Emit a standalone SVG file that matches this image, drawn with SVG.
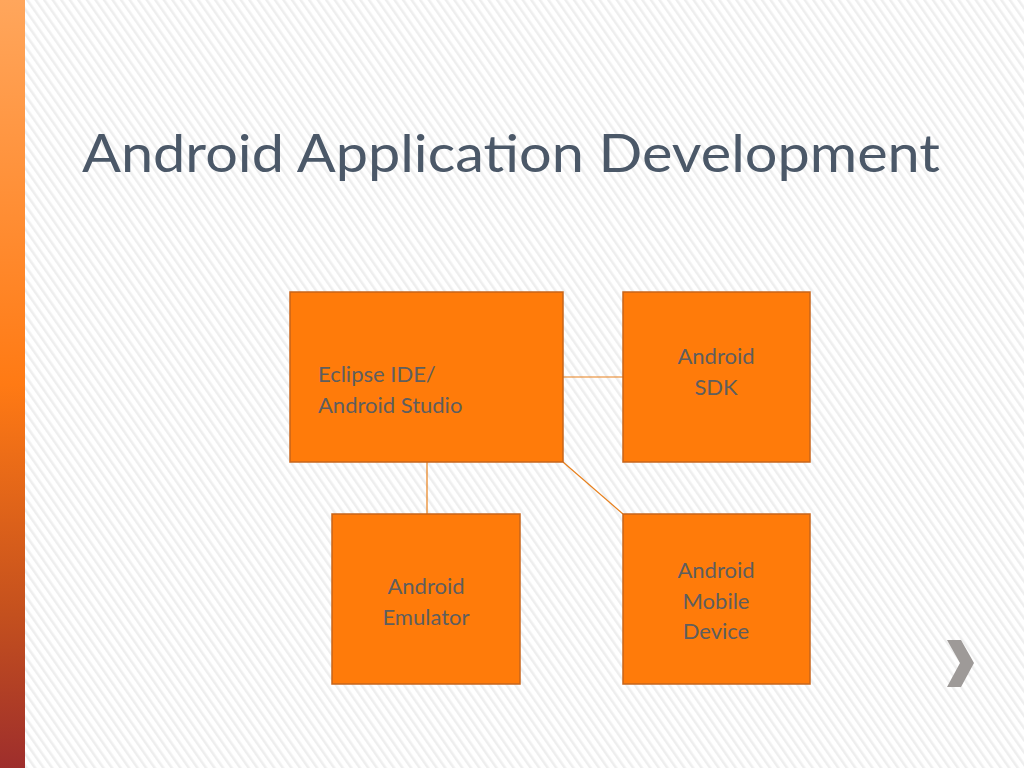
<svg xmlns="http://www.w3.org/2000/svg" width="1024" height="768" viewBox="0 0 1024 768">
<defs>
<linearGradient id="bar" x1="0" y1="0" x2="0" y2="1">
<stop offset="0" stop-color="#FFA65C"/>
<stop offset="0.5" stop-color="#FF7A14"/>
<stop offset="0.8" stop-color="#C4501E"/>
<stop offset="1" stop-color="#9E2E2C"/>
</linearGradient>
<pattern id="hatch" width="7" height="7" patternUnits="userSpaceOnUse" patternTransform="rotate(-35)">
<rect width="7" height="7" fill="#FFFFFF"/>
<rect x="0" y="0" width="2.5" height="7" fill="#EEEEEE"/>
</pattern>
<style>
.box{fill:#FF7B0A;stroke:#C8641A;stroke-width:1.5}
.lbl{font-family:Lato,"Open Sans","Liberation Sans",sans-serif;font-size:22px;fill:#5E5E5E}
.c{text-anchor:middle}
.con{stroke:#E8801C;stroke-width:1.2;fill:none}
</style>
</defs>
<rect width="1024" height="768" fill="url(#hatch)"/>
<rect x="0" y="0" width="25" height="768" fill="url(#bar)"/>
<text x="82" y="172" font-family="Lato,'Open Sans','Liberation Sans',sans-serif" font-size="52" fill="#4B5868" textLength="858" lengthAdjust="spacingAndGlyphs">Android Application Development</text>
<g id="connectors">
<line class="con" x1="563" y1="377" x2="623" y2="377"/>
<line class="con" x1="427" y1="462" x2="427" y2="514"/>
<line class="con" x1="563" y1="462" x2="623" y2="514"/>
</g>
<g id="eclipse">
<rect class="box" x="290" y="292" width="273" height="170"/>
<text class="lbl" x="318" y="382">Eclipse IDE/</text>
<text class="lbl" x="318" y="413">Android Studio</text>
</g>
<g id="sdk">
<rect class="box" x="623" y="292" width="187" height="170"/>
<text class="lbl c" x="716" y="364">Android</text>
<text class="lbl c" x="716" y="395">SDK</text>
</g>
<g id="emulator">
<rect class="box" x="332" y="514" width="188" height="170"/>
<text class="lbl c" x="426" y="594">Android</text>
<text class="lbl c" x="426" y="625">Emulator</text>
</g>
<g id="mobile">
<rect class="box" x="623" y="514" width="187" height="170"/>
<text class="lbl c" x="716" y="578">Android</text>
<text class="lbl c" x="716" y="609">Mobile</text>
<text class="lbl c" x="716" y="639">Device</text>
</g>
<polygon points="947,640 961,640 974,663 961,687 947,687 960,663" fill="#9E9A98"/>
</svg>
